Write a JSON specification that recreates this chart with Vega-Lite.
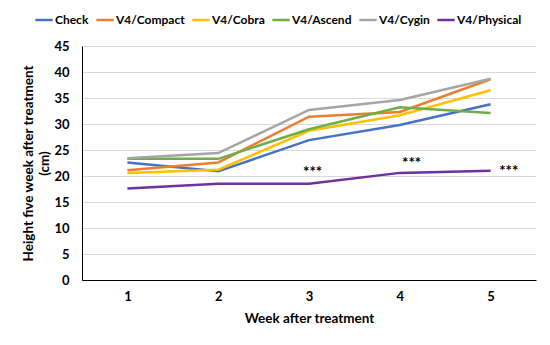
{
  "$schema": "https://vega.github.io/schema/vega-lite/v6.json",
  "width": 454,
  "height": 234,
  "autosize": {"type": "none"},
  "padding": {"left": 82, "top": 46, "right": 14, "bottom": 65},
  "background": "white",
  "config": {
    "font": "Lato",
    "view": {"stroke": null},
    "axis": {"labelFont": "Lato", "titleFont": "Lato", "labelFontWeight": "bold", "titleFontWeight": "bold", "labelColor": "#000", "titleColor": "#000"}
  },
  "datasets": {
    "lines": [
      {"week": 1, "series": "Check", "height": 22.6},
      {"week": 2, "series": "Check", "height": 20.9},
      {"week": 3, "series": "Check", "height": 26.9},
      {"week": 4, "series": "Check", "height": 29.8},
      {"week": 5, "series": "Check", "height": 33.8},
      {"week": 1, "series": "V4/Compact", "height": 21.1},
      {"week": 2, "series": "V4/Compact", "height": 22.6},
      {"week": 3, "series": "V4/Compact", "height": 31.4},
      {"week": 4, "series": "V4/Compact", "height": 32.3},
      {"week": 5, "series": "V4/Compact", "height": 38.6},
      {"week": 1, "series": "V4/Cobra", "height": 20.6},
      {"week": 2, "series": "V4/Cobra", "height": 21.2},
      {"week": 3, "series": "V4/Cobra", "height": 28.7},
      {"week": 4, "series": "V4/Cobra", "height": 31.7},
      {"week": 5, "series": "V4/Cobra", "height": 36.5},
      {"week": 1, "series": "V4/Ascend", "height": 23.3},
      {"week": 2, "series": "V4/Ascend", "height": 23.3},
      {"week": 3, "series": "V4/Ascend", "height": 29.0},
      {"week": 4, "series": "V4/Ascend", "height": 33.2},
      {"week": 5, "series": "V4/Ascend", "height": 32.1},
      {"week": 1, "series": "V4/Cygin", "height": 23.4},
      {"week": 2, "series": "V4/Cygin", "height": 24.4},
      {"week": 3, "series": "V4/Cygin", "height": 32.7},
      {"week": 4, "series": "V4/Cygin", "height": 34.6},
      {"week": 5, "series": "V4/Cygin", "height": 38.7},
      {"week": 1, "series": "V4/Physical", "height": 17.6},
      {"week": 2, "series": "V4/Physical", "height": 18.5},
      {"week": 3, "series": "V4/Physical", "height": 18.5},
      {"week": 4, "series": "V4/Physical", "height": 20.6},
      {"week": 5, "series": "V4/Physical", "height": 21.0}
    ],
    "stars": [
      {"week": 3.04, "height": 20.8, "label": "***"},
      {"week": 4.13, "height": 22.5, "label": "***"},
      {"week": 5.2, "height": 20.9, "label": "***"}
    ]
  },
  "encoding": {
    "x": {
      "field": "week", "type": "quantitative",
      "scale": {"domain": [0.5, 5.5], "nice": false, "zero": false},
      "axis": {"values": [1, 2, 3, 4, 5], "format": "d", "grid": false, "ticks": false, "domainColor": "#000", "domainWidth": 1, "labelFontSize": 13, "labelPadding": 10, "title": "Week after treatment", "titleFontSize": 13.5, "titlePadding": 8}
    },
    "y": {
      "field": "height", "type": "quantitative",
      "scale": {"domain": [0, 45], "nice": false},
      "axis": {"values": [0, 5, 10, 15, 20, 25, 30, 35, 40, 45], "labelOverlap": false, "ticks": false, "gridColor": "#d9d9d9", "gridWidth": 1, "domainColor": "#000", "domainWidth": 1, "labelFontSize": 13, "labelPadding": 13, "title": ["Height five week after treatment", "(cm)"], "titleFontSize": 13.5, "titlePadding": 2, "titleLineHeight": 16}
    }
  },
  "layer": [
    {
      "data": {"name": "lines"},
      "mark": {"type": "line", "strokeWidth": 2.5},
      "encoding": {
        "color": {
          "field": "series", "type": "nominal",
          "scale": {
            "domain": ["Check", "V4/Compact", "V4/Cobra", "V4/Ascend", "V4/Cygin", "V4/Physical"],
            "range": ["#4472C4", "#ED7D31", "#FFC000", "#70AD47", "#A5A5A5", "#7030A0"]
          },
          "legend": {
            "title": null, "orient": "none", "direction": "horizontal",
            "legendX": -48, "legendY": -36,
            "symbolType": "stroke", "symbolSize": 300, "symbolStrokeWidth": 2.5,
            "labelFont": "Lato", "labelFontWeight": "bold", "labelFontSize": 12, "labelColor": "#000",
            "columnPadding": 2, "labelOffset": 1, "labelLimit": 200
          }
        }
      }
    },
    {
      "data": {"name": "stars"},
      "mark": {"type": "text", "fontSize": 15, "fontWeight": "bold", "color": "#000", "baseline": "middle"},
      "encoding": {
        "text": {"field": "label"}
      }
    }
  ]
}
